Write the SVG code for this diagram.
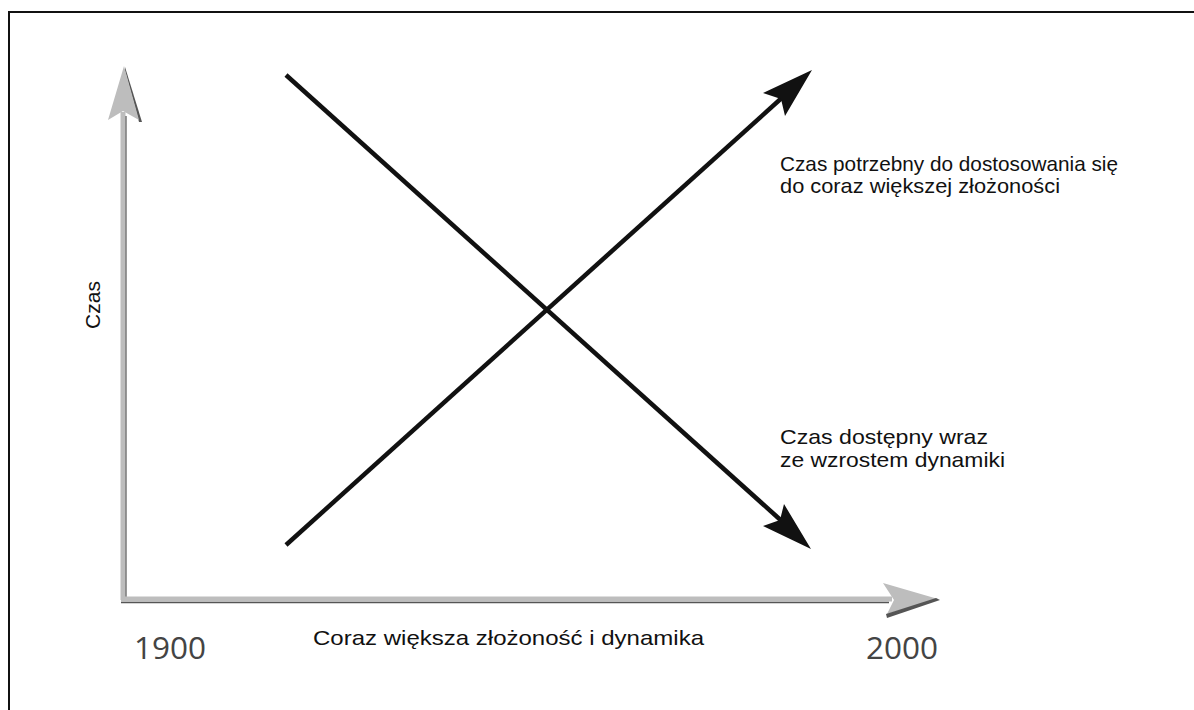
<svg xmlns="http://www.w3.org/2000/svg" width="1194" height="710" viewBox="0 0 1194 710">
  <style>
    .lbl { font-family: "Liberation Sans", Arial, sans-serif; font-size: 21px; fill: #111; }
    .year { font-family: "Open Sans", "DejaVu Sans", sans-serif; font-size: 31.5px; fill: #444; }
    .trend { stroke: #111; stroke-width: 4.5; fill: none; }
  </style>
  <rect width="1194" height="710" fill="#fff"/>
  <!-- frame (top and left edges only) -->
  <path d="M9 710 V12 H1194" fill="none" stroke="#111" stroke-width="2"/>

  <g id="axes">
    <!-- vertical axis -->
    <line x1="123" y1="600" x2="123" y2="112" stroke="#bdbdbd" stroke-width="5"/>
    <line x1="126" y1="600" x2="126" y2="116" stroke="#555" stroke-width="1.2"/>
    <polygon points="125,67 142,122 139,122 125,71" fill="#555"/>
    <polygon points="124,66 139,120 123,111 108,120" fill="#bdbdbd"/>
    <!-- horizontal axis -->
    <line x1="121" y1="599" x2="892" y2="599" stroke="#bdbdbd" stroke-width="5"/>
    <line x1="121" y1="602.5" x2="889" y2="602.5" stroke="#555" stroke-width="1.5"/>
    <polygon points="938,599 883,583 894,600 887,614" fill="#bdbdbd"/>
    <polygon points="940,600 887,618 886,614 936,598" fill="#555"/>
  </g>

  <g id="connectors">
    <!-- rising: time needed to adapt -->
    <line class="trend" x1="286" y1="545" x2="785" y2="95"/>
    <polygon points="812,70 785,116 781,99 763,93" fill="#111"/>
    <!-- falling: time available -->
    <line class="trend" x1="286" y1="75" x2="785" y2="524"/>
    <polygon points="811,549 763,526 780,520 784,504" fill="#111"/>
  </g>

  <g id="label-needed">
    <text class="lbl" x="780" y="171" textLength="338" lengthAdjust="spacingAndGlyphs">Czas potrzebny do dostosowania się</text>
    <text class="lbl" x="780" y="193" textLength="280" lengthAdjust="spacingAndGlyphs">do coraz większej złożoności</text>
  </g>
  <g id="label-available">
    <text class="lbl" x="780" y="444" textLength="208" lengthAdjust="spacingAndGlyphs">Czas dostępny wraz</text>
    <text class="lbl" x="780" y="467" textLength="225" lengthAdjust="spacingAndGlyphs">ze wzrostem dynamiki</text>
  </g>
  <g id="label-y">
    <text class="lbl" transform="translate(100,305) rotate(-90)" text-anchor="middle" font-size="22">Czas</text>
  </g>
  <g id="label-x">
    <text class="lbl" x="313" y="645" font-size="22" textLength="391" lengthAdjust="spacingAndGlyphs">Coraz większa złożoność i dynamika</text>
  </g>
  <g id="year-start">
    <text class="year" x="134" y="659">1900</text>
  </g>
  <g id="year-end">
    <text class="year" x="866" y="659">2000</text>
  </g>
</svg>
